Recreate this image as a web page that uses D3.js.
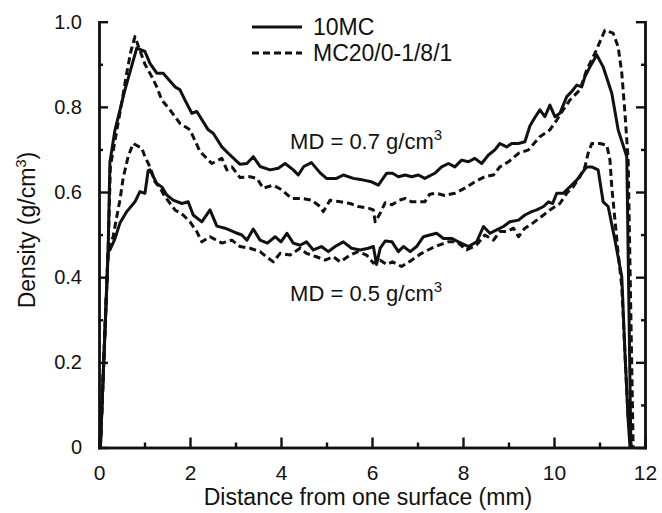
<!DOCTYPE html>
<html><head><meta charset="utf-8">
<script src="https://cdn.jsdelivr.net/npm/d3@7"></script>
<style>body{margin:0;background:#fff}svg{display:block}text{font-family:"Liberation Sans",Arial,sans-serif;fill:#111}</style>
</head><body><svg id="c" width="662" height="513"></svg>
<script>
// ---- data: [distance (mm), density (g/cm3)] ----
const md07_10MC = [[0.03,0],[0.20,0.46],[0.24,0.67],[0.35,0.745],[0.57,0.84],[0.83,0.938],[1.01,0.93],[1.12,0.902],[1.27,0.879],[1.41,0.879],[1.67,0.847],[1.78,0.84],[1.89,0.816],[2.04,0.785],[2.15,0.789],[2.40,0.746],[2.51,0.738],[2.70,0.706],[2.84,0.691],[3.00,0.675],[3.10,0.665],[3.25,0.667],[3.39,0.683],[3.54,0.66],[3.76,0.652],[3.94,0.656],[4.09,0.667],[4.27,0.652],[4.38,0.64],[4.50,0.66],[4.67,0.669],[4.86,0.645],[5.0,0.632],[5.22,0.632],[5.37,0.64],[5.59,0.632],[5.81,0.628],[5.99,0.624],[6.14,0.616],[6.32,0.644],[6.45,0.644],[6.58,0.636],[6.73,0.64],[6.87,0.636],[7.02,0.64],[7.16,0.632],[7.38,0.644],[7.53,0.659],[7.68,0.667],[7.82,0.659],[7.97,0.675],[8.12,0.671],[8.26,0.679],[8.41,0.667],[8.56,0.687],[8.70,0.699],[8.81,0.714],[8.96,0.706],[9.07,0.714],[9.22,0.714],[9.36,0.718],[9.47,0.755],[9.58,0.775],[9.69,0.793],[9.80,0.777],[9.91,0.804],[10.02,0.777],[10.13,0.785],[10.28,0.824],[10.39,0.836],[10.50,0.851],[10.61,0.847],[10.68,0.871],[10.79,0.894],[10.94,0.922],[11.08,0.894],[11.27,0.832],[11.41,0.746],[11.60,0.683],[11.69,0]];
const md07_MC20 = [[0.03,0],[0.20,0.46],[0.25,0.66],[0.35,0.72],[0.5,0.81],[0.61,0.88],[0.70,0.93],[0.79,0.965],[0.87,0.941],[1.01,0.90],[1.16,0.871],[1.27,0.847],[1.38,0.816],[1.56,0.793],[1.78,0.761],[2.0,0.746],[2.22,0.695],[2.48,0.667],[2.70,0.679],[2.81,0.652],[2.92,0.659],[3.10,0.634],[3.32,0.636],[3.47,0.632],[3.61,0.609],[3.83,0.616],[4.02,0.605],[4.23,0.585],[4.45,0.585],[4.67,0.581],[4.86,0.566],[4.93,0.554],[5.08,0.581],[5.30,0.577],[5.52,0.573],[5.70,0.566],[5.92,0.562],[6.03,0.558],[6.07,0.53],[6.18,0.55],[6.29,0.575],[6.44,0.57],[6.58,0.58],[6.73,0.585],[6.87,0.577],[7.16,0.577],[7.27,0.595],[7.42,0.597],[7.6,0.592],[7.82,0.597],[8.04,0.609],[8.26,0.624],[8.48,0.636],[8.67,0.640],[8.81,0.659],[9.0,0.671],[9.22,0.691],[9.44,0.699],[9.69,0.73],[9.91,0.746],[10.06,0.769],[10.2,0.793],[10.35,0.816],[10.57,0.84],[10.72,0.887],[10.9,0.926],[11.12,0.98],[11.30,0.973],[11.41,0.941],[11.49,0.879],[11.56,0.785],[11.63,0.675],[11.74,0]];
const md05_10MC = [[0.03,0],[0.20,0.46],[0.24,0.464],[0.35,0.49],[0.46,0.527],[0.61,0.554],[0.79,0.577],[0.90,0.601],[1.01,0.597],[1.08,0.650],[1.12,0.652],[1.27,0.62],[1.38,0.612],[1.49,0.593],[1.63,0.581],[1.82,0.573],[1.96,0.577],[2.07,0.546],[2.26,0.530],[2.44,0.558],[2.59,0.52],[2.77,0.515],[2.99,0.505],[3.14,0.499],[3.25,0.487],[3.39,0.513],[3.54,0.487],[3.70,0.48],[3.87,0.495],[4.0,0.483],[4.13,0.503],[4.27,0.48],[4.42,0.475],[4.56,0.483],[4.71,0.464],[4.89,0.472],[5.04,0.46],[5.19,0.472],[5.37,0.483],[5.55,0.468],[5.74,0.464],[5.92,0.468],[6.03,0.472],[6.10,0.43],[6.18,0.468],[6.29,0.485],[6.44,0.483],[6.58,0.46],[6.69,0.472],[6.84,0.46],[6.98,0.472],[7.13,0.495],[7.27,0.499],[7.42,0.503],[7.57,0.491],[7.75,0.491],[7.90,0.483],[8.12,0.472],[8.30,0.483],[8.45,0.519],[8.59,0.503],[8.74,0.511],[8.89,0.519],[9.03,0.530],[9.22,0.534],[9.36,0.546],[9.51,0.554],[9.62,0.558],[9.77,0.566],[9.88,0.577],[9.97,0.573],[10.06,0.597],[10.20,0.597],[10.35,0.612],[10.50,0.628],[10.61,0.644],[10.72,0.659],[10.83,0.659],[10.97,0.652],[11.08,0.577],[11.19,0.566],[11.34,0.487],[11.49,0.401],[11.56,0.221],[11.63,0.065],[11.67,0]];
const md05_MC20 = [[0.03,0],[0.20,0.464],[0.31,0.495],[0.39,0.542],[0.46,0.581],[0.53,0.632],[0.64,0.683],[0.75,0.714],[0.94,0.703],[1.01,0.683],[1.12,0.659],[1.23,0.624],[1.34,0.61],[1.45,0.589],[1.67,0.558],[1.85,0.546],[2.0,0.53],[2.15,0.507],[2.26,0.483],[2.44,0.495],[2.70,0.48],[2.92,0.487],[3.10,0.472],[3.32,0.468],[3.54,0.46],[3.68,0.448],[3.83,0.436],[3.98,0.456],[4.20,0.452],[4.42,0.468],[4.56,0.456],[4.78,0.448],[4.97,0.440],[5.15,0.448],[5.30,0.436],[5.52,0.452],[5.70,0.46],[5.88,0.452],[6.03,0.433],[6.18,0.44],[6.32,0.43],[6.45,0.436],[6.65,0.425],[6.87,0.44],[7.09,0.456],[7.31,0.468],[7.49,0.476],[7.68,0.483],[7.86,0.483],[8.08,0.464],[8.30,0.476],[8.48,0.499],[8.67,0.487],[8.81,0.507],[8.96,0.507],[9.11,0.515],[9.22,0.495],[9.36,0.515],[9.51,0.525],[9.62,0.534],[9.77,0.546],[9.91,0.558],[10.13,0.573],[10.28,0.597],[10.42,0.612],[10.57,0.636],[10.68,0.659],[10.75,0.691],[10.83,0.714],[11.01,0.714],[11.16,0.71],[11.23,0.675],[11.27,0.612],[11.34,0.534],[11.41,0.456],[11.49,0.378],[11.56,0.221],[11.63,0.065],[11.70,0]];

const xMajorTicks = [0,2,4,6,8,10,12];
const xMinorTicks = [1,3,5,7,9,11];
const yMajorTicks = [0,0.2,0.4,0.6,0.8,1.0];
const yMinorTicks = [0.1,0.3,0.5,0.7,0.9];
const legendLabels = ["10MC","MC20/0-1/8/1"];
const annotations = [{text:"MD = 0.7 g/cm", x:4.2, y:0.7}, {text:"MD = 0.5 g/cm", x:4.2, y:0.344}];
const xTitle = "Distance from one surface (mm)";
const yTitle = "Density (g/cm";

// ---- drawing ----
const svg = d3.select("#c");
const L = 99, R = 645, T = 21.7, B = 447.5;
const x = d3.scaleLinear().domain([0,12]).range([L,R]);
const y = d3.scaleLinear().domain([0,1]).range([B,T]);

const AX = 2.4;
function styleAxis(g){ g.selectAll("path,line").attr("stroke","#111").attr("stroke-width",AX); g.select(".domain").attr("stroke-linecap","square"); }

// left axis
svg.append("g").attr("transform",`translate(${L},0)`)
  .call(d3.axisLeft(y).tickValues(yMajorTicks).tickSize(-9).tickSizeOuter(0).tickPadding(17)
    .tickFormat(d=> d===0 ? "0" : d3.format(".1f")(d)))
  .call(styleAxis)
  .call(g=>g.selectAll("text").attr("font-size",20).attr("fill","#111"));
svg.append("g").attr("transform",`translate(${L},0)`)
  .call(d3.axisLeft(y).tickValues(yMinorTicks).tickSize(-4).tickSizeOuter(0).tickFormat(""))
  .call(styleAxis);
// right axis
svg.append("g").attr("transform",`translate(${R},0)`)
  .call(d3.axisRight(y).tickValues(yMajorTicks).tickSize(-9).tickSizeOuter(0).tickFormat(""))
  .call(styleAxis);
svg.append("g").attr("transform",`translate(${R},0)`)
  .call(d3.axisRight(y).tickValues(yMinorTicks).tickSize(-4).tickSizeOuter(0).tickFormat(""))
  .call(styleAxis);
// bottom axis
svg.append("g").attr("transform",`translate(0,${B})`)
  .call(d3.axisBottom(x).tickValues(xMajorTicks).tickSize(-10).tickSizeOuter(0).tickPadding(18)
    .tickFormat(d3.format("d")))
  .call(styleAxis)
  .call(g=>g.selectAll("text").attr("font-size",21).attr("fill","#111"));
svg.append("g").attr("transform",`translate(0,${B})`)
  .call(d3.axisBottom(x).tickValues(xMinorTicks).tickSize(-5).tickSizeOuter(0).tickFormat(""))
  .call(styleAxis);

// curves
const line = d3.line().x(d=>x(d[0])).y(d=>y(d[1]));
const series = [
  {data:md07_10MC, dash:null},
  {data:md07_MC20, dash:"7,4"},
  {data:md05_10MC, dash:null},
  {data:md05_MC20, dash:"7,4"}
];
svg.append("g").selectAll("path").data(series).join("path")
  .attr("d",d=>line(d.data)).attr("fill","none").attr("stroke","#111")
  .attr("stroke-width",3).attr("stroke-linejoin","round")
  .attr("stroke-dasharray",d=>d.dash);

// legend
const lg = svg.append("g");
legendLabels.forEach((t,i)=>{
  const yy = 27 + i*26;
  lg.append("line").attr("x1",252).attr("x2",302).attr("y1",yy).attr("y2",yy)
    .attr("stroke","#111").attr("stroke-width",3).attr("stroke-dasharray", i===1 ? "7,4" : null);
  lg.append("text").attr("x",313).attr("y",yy+8).attr("font-size",23).text(t);
});

// annotations
annotations.forEach(a=>{
  const t = svg.append("text").attr("x",x(a.x)).attr("y",y(a.y)).attr("font-size",22).text(a.text);
  t.append("tspan").attr("dy",-9).attr("font-size",15).text("3");
});

// axis titles
svg.append("text").attr("x",368).attr("y",505).attr("text-anchor","middle").attr("font-size",23).text(xTitle);
const yt = svg.append("text").attr("transform","translate(35,230) rotate(-90)").attr("text-anchor","middle").attr("font-size",23).text(yTitle);
yt.append("tspan").attr("dy",-9).attr("font-size",15).text("3");
yt.append("tspan").attr("dy",9).text(")");
</script></body></html>
